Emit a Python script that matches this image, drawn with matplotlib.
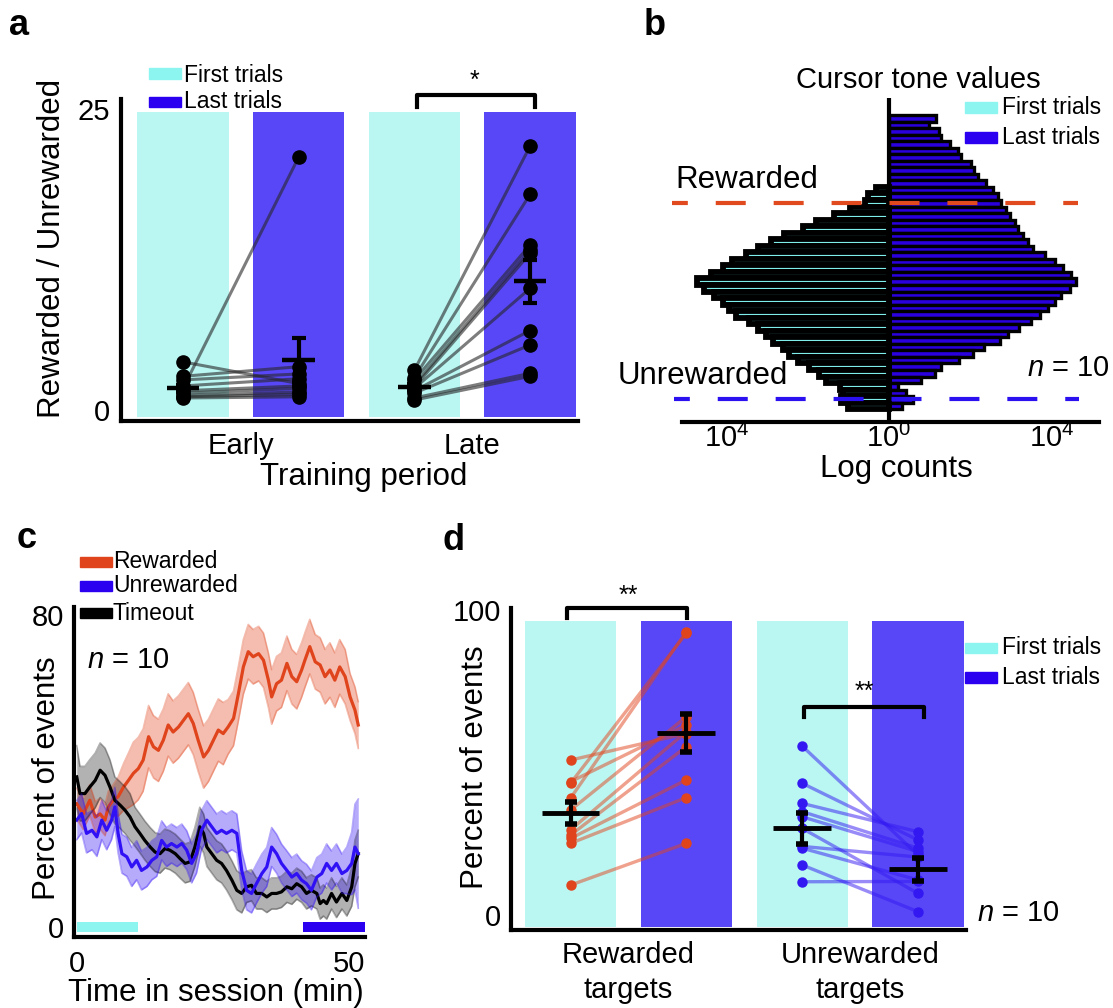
import numpy as np
import matplotlib
matplotlib.use("Agg")
import matplotlib.pyplot as plt
from matplotlib.patches import Rectangle

W, H = 1113, 1008
plt.rcParams['font.family'] = ['Liberation Sans', 'DejaVu Sans']
plt.rcParams['mathtext.fontset'] = 'custom'
plt.rcParams['mathtext.rm'] = 'Liberation Sans'
plt.rcParams['mathtext.it'] = 'Liberation Sans:italic'
plt.rcParams['mathtext.bf'] = 'Liberation Sans:bold'

# ---------------- data ----------------
# panel a : reward / unrewarded ratio per animal
a_groups = ['Early', 'Late']
a_early_first = [1.8, 4.0, 2.8, 2.5, 2.0, 1.6, 1.4, 1.2, 1.1, 1.0]
a_early_last = [21.0, 2.2, 3.6, 3.0, 2.6, 2.0, 1.8, 1.5, 1.3, 1.1]
a_late_first = [3.3, 2.7, 2.5, 2.1, 1.9, 1.8, 1.6, 1.4, 1.0, 0.83]
a_late_last = [21.9, 17.9, 13.7, 13.3, 13.0, 10.1, 6.6, 5.4, 3.05, 2.8]
a_means = [1.8, 4.15, 1.9, 10.7]
a_sems = [0.3, 1.8, 0.25, 1.8]

# panel b : log10 counts of cursor tone values per bin (top -> bottom)
b_last_log = [1.16, 0.99, 1.24, 1.28, 1.49, 1.69, 1.77, 2.02, 2.10, 2.19, 2.39, 2.56,
              2.68, 2.76, 2.89, 2.97, 3.09, 3.17, 3.30, 3.42, 3.54, 3.83, 4.08, 4.28,
              4.49, 4.61, 4.45, 4.24, 4.08, 3.91, 3.71, 3.50, 3.21, 2.93, 2.72, 2.35,
              2.06, 1.73, 1.28, 1.12, 0.79, 0.21, 0.42, 0.58, 0.33]
b_first_log = [np.nan] * 11 + [
    0.32, 0.52, 0.60, 0.97, 1.35, 1.80, 2.13, 2.58, 2.91, 3.24, 3.53, 3.86,
    4.10, 4.39, 4.72, 4.55, 4.31, 4.10, 3.94, 3.77, 3.44, 3.24, 3.03, 2.87,
    2.62, 2.46, 2.25, 1.96, 1.72, 1.55, 1.22, 1.14, 1.18, 1.02]
b_rewarded_bin = 14
b_unrewarded_bin = 44

# panel c : percent of events over session time
c_red_t = [0.0, 1.2, 2.4, 3.4, 4.3, 5.2, 5.8, 6.7, 7.6, 8.6, 9.5, 10.4, 11.3, 12.2,
           13.2, 14.1, 15.0, 15.9, 16.8, 17.7, 18.7, 19.6, 20.5, 21.4, 22.3, 23.3,
           24.2, 25.1, 26.0, 26.9, 27.8, 28.8, 29.7, 30.6, 31.5, 32.4, 33.4, 34.3,
           35.2, 35.8, 36.7, 37.6, 38.6, 39.5, 40.4, 41.3, 41.9, 42.8, 43.8, 44.7,
           45.6, 46.5, 47.4, 48.3, 49.3, 50.2, 51.1, 51.7]
c_red = [31.6, 29.0, 32.5, 28.2, 29.0, 27.4, 30.8, 32.5, 33.4, 35.9, 37.6, 39.4, 40.6,
         42.8, 48.8, 46.2, 45.3, 47.9, 51.8, 50.0, 51.3, 53.0, 54.7, 52.2, 47.9, 43.6,
         45.3, 47.9, 50.5, 49.6, 51.3, 53.5, 59.9, 66.7, 70.6, 69.3, 70.1, 68.4, 63.3,
         59.0, 62.4, 63.3, 67.6, 64.2, 62.9, 65.9, 68.4, 71.9, 68.0, 67.2, 64.2, 65.9,
         63.3, 66.7, 64.2, 59.0, 55.6, 51.8]
c_red_sem = [4, 4, 4, 4, 4, 4, 4, 4, 5, 6, 7, 8, 8, 8, 8, 8, 8, 8, 8, 8, 8, 8, 8, 8,
             8, 8, 8, 8, 8, 8, 7, 7, 7, 7, 7, 7, 7, 7, 7, 7, 7, 7, 7, 7, 7, 7, 7, 7,
             7, 7, 7, 7, 7, 7, 7, 6, 6, 6]

c_black_t = [0.0, 0.6, 1.5, 2.4, 3.4, 4.3, 5.2, 6.1, 7.0, 8.0, 8.9, 9.8, 10.7, 11.6,
             12.5, 13.5, 14.4, 15.3, 16.2, 17.1, 18.1, 19.0, 19.9, 20.8, 21.7, 22.6,
             23.3, 23.9, 24.8, 25.7, 26.6, 27.5, 28.5, 29.4, 30.3, 31.2, 32.1, 33.0,
             34.0, 34.9, 35.8, 36.7, 37.6, 38.6, 39.5, 40.4, 41.3, 42.2, 43.1, 44.1,
             44.7, 45.3, 45.9, 46.8, 47.7, 48.7, 49.6, 50.5, 51.1, 51.7]
c_black = [38.5, 34.2, 34.2, 35.9, 37.6, 40.2, 38.9, 35.9, 32.5, 31.2, 29.9, 28.2, 25.7,
           24.0, 22.2, 20.5, 19.2, 18.8, 20.1, 19.7, 18.8, 17.5, 16.3, 16.7, 20.5, 25.7,
           24.0, 20.5, 18.8, 17.1, 16.3, 14.5, 12.0, 9.4, 8.6, 10.3, 10.7, 8.6, 8.6, 7.7,
           8.6, 8.6, 9.0, 10.3, 9.8, 11.1, 10.3, 8.6, 9.4, 8.6, 6.0, 6.8, 6.0, 8.6, 6.4,
           8.6, 6.8, 10.3, 16.3, 18.8]
c_black_sem = [8, 7, 7, 7, 7, 7, 7, 7, 6, 6, 6, 6, 5, 5, 5, 5, 5, 5, 5, 5, 5, 5, 5, 5,
               5, 5, 5, 5, 5, 5, 5, 5, 5, 5, 5, 4, 4, 4, 4, 4, 4, 4, 4, 4, 4, 4, 4, 4,
               4, 4, 4, 4, 4, 4, 4, 4, 4, 5, 6, 6]

c_blue_t = [0.0, 0.9, 1.8, 2.8, 3.7, 4.6, 5.5, 6.4, 7.0, 7.6, 8.3, 9.2, 10.1, 11.0, 11.9,
            12.9, 13.8, 14.7, 15.6, 16.5, 17.4, 18.4, 19.3, 20.2, 21.1, 22.0, 22.9, 23.9,
            24.8, 25.7, 26.6, 27.5, 28.5, 29.4, 30.3, 31.2, 32.1, 33.0, 34.0, 34.9, 35.8,
            36.7, 37.6, 38.6, 39.5, 40.4, 41.3, 42.2, 43.1, 44.1, 45.0, 45.9, 46.8, 47.7,
            48.7, 49.6, 50.5, 51.1, 51.7]
c_blue = [27.4, 29.1, 24.0, 24.8, 23.1, 27.4, 24.8, 27.4, 30.8, 24.0, 18.8, 18.0, 15.4,
          17.1, 14.5, 15.4, 17.1, 18.0, 22.2, 20.5, 21.4, 20.5, 21.4, 19.7, 16.3, 18.8,
          24.8, 27.4, 25.7, 24.0, 24.8, 24.0, 24.8, 24.0, 14.5, 9.4, 8.6, 11.1, 13.7, 15.4,
          20.5, 18.8, 16.3, 14.5, 12.8, 13.7, 12.0, 11.1, 9.4, 12.8, 13.7, 16.3, 14.5, 16.3,
          13.7, 14.5, 16.3, 20.5, 18.8]
c_blue_sem = [5, 5, 5, 5, 5, 5, 5, 5, 5, 5, 5, 5, 5, 5, 5, 5, 5, 5, 5, 5, 5, 5, 5, 5, 5,
              5, 5, 5, 5, 5, 5, 5, 5, 5, 5, 5, 5, 5, 5, 5, 5, 5, 5, 5, 5, 5, 5, 5, 5, 5,
              5, 5, 5, 5, 5, 6, 8, 11, 14]
c_first_epoch = (0.0, 11.3)
c_last_epoch = (41.6, 52.9)

# panel d : percent of events per target
d_categories = ['Rewarded\ntargets', 'Unrewarded\ntargets']
d_rew_first = [50.8, 43.7, 43.2, 38.3, 34.4, 27.9, 26.2, 25.1, 23.5, 9.8]
d_rew_last = [59.5, 62.3, 92.4, 92.9, 65.0, 60.1, 55.2, 44.3, 38.5, 23.5]
d_unr_first = [55.4, 43.2, 36.6, 33.9, 32.2, 28.4, 22.5, 21.9, 16.4, 10.9]
d_unr_last = [19.7, 24.6, 27.3, 21.9, 20.8, 7.1, 19.0, 11.5, 1.1, 11.0]
d_means = [33.3, 59.6, 28.4, 15.0]
d_sems = [3.6, 6.3, 5.2, 3.8]

# ---------------- style ----------------
CYAN_BG = '#BAF7F3'
BLUE_BG = '#5847F7'
CYAN = '#8CF5F0'
BLUE = '#2B00F0'
RED = '#E0441C'
B_CYAN = '#7FEDEA'
B_BLUE = '#2A00DC'
FS_LAB = 22.5
FS_TICK = 21
FS_LEG = 16.5


def rect(l, t, r, b):
    return [l / W, 1 - b / H, (r - l) / W, (b - t) / H]


def fx(x):
    return x / W


def fy(y):
    return 1 - y / H


def style_axes(ax):
    for s in ['top', 'right']:
        ax.spines[s].set_visible(False)
    for s in ['left', 'bottom']:
        ax.spines[s].set_linewidth(3)
    ax.tick_params(length=0, labelsize=FS_TICK)


def legend_patch(x0, y0, x1, y1, color, label, tx, ty):
    fig.patches.append(Rectangle((fx(x0), fy(y1)), (x1 - x0) / W, (y1 - y0) / H,
                                 transform=fig.transFigure, color=color))
    fig.text(fx(tx), fy(ty), label, fontsize=FS_LEG, ha='left', va='center')


fig = plt.figure(figsize=(W / 100, H / 100), dpi=100)

# ---------------- panel a ----------------
ax = fig.add_axes(rect(121, 99, 578, 421))
pos = [1, 2, 3, 4]
ax.bar(pos, 25.33, bottom=-0.58, width=0.787, color=[CYAN_BG, BLUE_BG, CYAN_BG, BLUE_BG])
for p1, p2, f, l in [(1, 2, a_early_first, a_early_last), (3, 4, a_late_first, a_late_last)]:
    for fv, lv in zip(f, l):
        ax.plot([p1, p2], [fv, lv], color='#262626', alpha=0.6, lw=2.2)
    ax.plot([p1] * len(f), f, 'o', color='k', ms=9.5)
    ax.plot([p2] * len(l), l, 'o', color='k', ms=9.5)
for p, m, s in zip(pos, a_means, a_sems):
    ax.plot([p - 0.14, p + 0.14], [m, m], color='k', lw=3.2, solid_capstyle='butt')
    ax.errorbar(p, m, yerr=s, color='k', capsize=5, capthick=3, elinewidth=3)
ax.set_xlim(0.464, 4.415)
ax.set_ylim(-0.91, 25.83)
ax.set_yticks([0, 25])
ax.set_xticks([1.5, 3.5])
ax.set_xticklabels(a_groups)
style_axes(ax)
ax.tick_params(axis='x', pad=8)
ax.tick_params(axis='y', pad=8)
# significance bracket
ax.plot([3.02, 3.02, 4.04, 4.04], [25.17, 26.16, 26.16, 25.17], color='k', lw=3, clip_on=False)
ax.text(3.52, 27.3, '*', fontsize=18, ha='center', va='center')
fig.text(fx(52), fy(248), 'Rewarded / Unrewarded', rotation=90, fontsize=FS_LAB,
         ha='center', va='center')
fig.text(fx(364), fy(477), 'Training period', fontsize=FS_LAB, ha='center', va='center')
legend_patch(149, 68, 181, 79, CYAN, 'First trials', 184, 75)
legend_patch(149, 97, 181, 107, BLUE, 'Last trials', 184, 102)
fig.text(fx(9), fy(35), 'a', fontsize=26, fontweight='bold', ha='left', va='baseline')

# ---------------- panel b ----------------
ax = fig.add_axes(rect(682, 98, 1099, 422))
bins = np.arange(1, len(b_last_log) + 1)
ax.barh(bins, b_last_log, height=1.0, color=B_BLUE, edgecolor='k', linewidth=2.4)
first = np.array(b_first_log)
mask = ~np.isnan(first)
ax.barh(bins[mask], -first[mask], height=1.0, color=B_CYAN, edgecolor='k', linewidth=4.2)
ax.axvline(0, color='k', lw=3)
ax.plot([-5.34, 4.66], [b_rewarded_bin, b_rewarded_bin], color='#E04A1E', lw=3,
        linestyle=(3.4, (7.2, 6.7)), clip_on=False)
ax.plot([-5.30, 4.67], [b_unrewarded_bin, b_unrewarded_bin], color='#2B10F0', lw=3,
        linestyle=(3.4, (7.2, 6.7)), clip_on=False)
ax.set_xlim(-5.10, 5.17)
ax.set_ylim(47.45, -2.10)
for s in ['top', 'right', 'left']:
    ax.spines[s].set_visible(False)
ax.spines['bottom'].set_linewidth(3)
ax.set_yticks([])
ax.set_xticks([-4, 0, 4])
ax.set_xticklabels(['$10^4$', '$10^0$', '$10^4$'])
ax.tick_params(length=0, labelsize=FS_TICK, pad=1)
fig.text(fx(918), fy(80), 'Cursor tone values', fontsize=21, ha='center', va='center')
fig.text(fx(675), fy(180), 'Rewarded', fontsize=FS_LAB, ha='left', va='center')
fig.text(fx(618), fy(376), 'Unrewarded', fontsize=FS_LAB, ha='left', va='center')
fig.text(fx(1110), fy(368), '$n$ = 10', fontsize=21, ha='right', va='center')
fig.text(fx(896), fy(469), 'Log counts', fontsize=FS_LAB, ha='center', va='center')
legend_patch(965, 102, 997, 113, CYAN, 'First trials', 1002, 108)
legend_patch(965, 132, 997, 143, BLUE, 'Last trials', 1002, 137)
fig.text(fx(644), fy(35), 'b', fontsize=26, fontweight='bold', ha='left', va='baseline')

# ---------------- panel c ----------------
ax = fig.add_axes(rect(74, 607, 365, 937))
for t, v, s, col, fa in [(c_red_t, c_red, c_red_sem, RED, 0.35),
                         (c_black_t, c_black, c_black_sem, 'k', 0.3),
                         (c_blue_t, c_blue, c_blue_sem, '#3010F5', 0.35)]:
    t = np.array(t); v = np.array(v); s = np.array(s)
    ax.fill_between(t, v - s, v + s, color=col, alpha=fa, lw=0)
    ax.plot(t, v + s, color=col, alpha=fa, lw=1.2)
    ax.plot(t, v - s, color=col, alpha=fa, lw=1.2)
    ax.plot(t, v, color=col, lw=2.3)
ax.barh(0, c_first_epoch[1] - c_first_epoch[0], left=c_first_epoch[0], height=2.6,
        color=CYAN)
ax.barh(0, c_last_epoch[1] - c_last_epoch[0], left=c_last_epoch[0], height=2.6,
        color=BLUE)
ax.set_xlim(-0.5, 52.94)
ax.set_ylim(-2.57, 82.06)
ax.set_xticks([0, 50])
ax.set_yticks([0, 80])
style_axes(ax)
ax.tick_params(axis='x', pad=9)
ax.tick_params(axis='y', pad=7)
fig.text(fx(47), fy(778), 'Percent of events', rotation=90, fontsize=FS_LAB,
         ha='center', va='center')
fig.text(fx(216), fy(993), 'Time in session (min)', fontsize=FS_LAB, ha='center',
         va='center')
fig.text(fx(87), fy(660), '$n$ = 10', fontsize=21, ha='left', va='center')
legend_patch(80, 557, 112, 567, RED, 'Rewarded', 113, 562)
legend_patch(80, 581, 112, 591, BLUE, 'Unrewarded', 113, 586)
legend_patch(80, 608, 112, 618, 'k', 'Timeout', 113, 613)
fig.text(fx(17), fy(548), 'c', fontsize=26, fontweight='bold', ha='left', va='baseline')

# ---------------- panel d ----------------
ax = fig.add_axes(rect(511, 608, 966, 930))
ax.bar(pos, 100.3, bottom=-3.9, width=0.787, color=[CYAN_BG, BLUE_BG, CYAN_BG, BLUE_BG])
for p1, p2, f, l, col in [(1, 2, d_rew_first, d_rew_last, RED),
                          (3, 4, d_unr_first, d_unr_last, '#3318F2')]:
    for fv, lv in zip(f, l):
        ax.plot([p1, p2], [fv, lv], color=col, alpha=0.5, lw=2.4)
    ax.plot([p1] * len(f), f, 'o', color=col, ms=6.5)
    ax.plot([p2] * len(l), l, 'o', color=col, ms=6.5)
for p, m, s in zip(pos, d_means, d_sems):
    ax.plot([p - 0.25, p + 0.25], [m, m], color='k', lw=3.5, solid_capstyle='butt')
    ax.errorbar(p, m, yerr=s, color='k', capsize=4, capthick=4, elinewidth=3)
ax.set_xlim(0.486, 4.415)
ax.set_ylim(-4.92, 100.66)
ax.set_yticks([0, 100])
ax.set_xticks([1.5, 3.5])
ax.set_xticklabels(d_categories, linespacing=1.3)
style_axes(ax)
ax.tick_params(axis='x', pad=8)
ax.tick_params(axis='y', pad=7)
ax.plot([0.97, 0.97, 2.006, 2.006], [97.4, 100.66, 100.66, 97.4], color='k', lw=3,
        clip_on=False)
ax.text(1.50, 104.8, '**', fontsize=18, ha='center', va='center')
ax.plot([3.015, 3.015, 4.05, 4.05], [65.0, 68.3, 68.3, 65.0], color='k', lw=3,
        clip_on=False)
ax.text(3.54, 73.0, '**', fontsize=18, ha='center', va='center')
fig.text(fx(475), fy(767), 'Percent of events', rotation=90, fontsize=FS_LAB,
         ha='center', va='center')
fig.text(fx(977), fy(913), '$n$ = 10', fontsize=21, ha='left', va='center')
legend_patch(965, 643, 997, 653, CYAN, 'First trials', 1002, 648)
legend_patch(965, 672, 997, 683, BLUE, 'Last trials', 1002, 678)
fig.text(fx(442), fy(550), 'd', fontsize=26, fontweight='bold', ha='left', va='baseline')

fig.savefig('out.png', dpi=100)
